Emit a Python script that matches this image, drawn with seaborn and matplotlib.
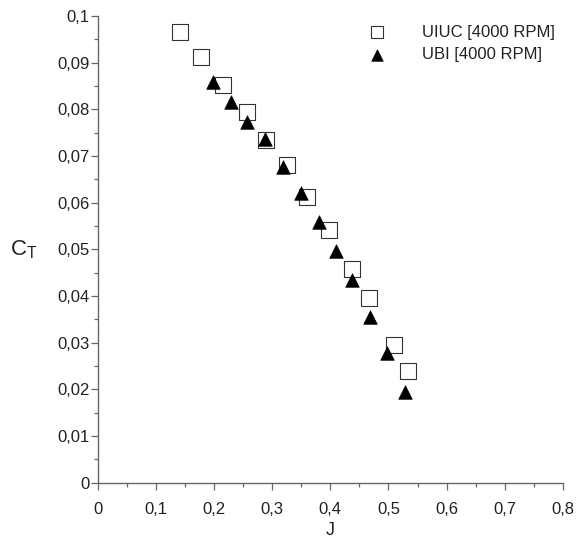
import matplotlib
matplotlib.use("Agg")
import matplotlib.pyplot as plt
import seaborn as sns
import pandas as pd
from matplotlib.ticker import MultipleLocator, FixedLocator, FixedFormatter

sns.set_style("ticks")
plt.rcParams["font.family"] = ["Liberation Sans", "DejaVu Sans"]
plt.rcParams["mathtext.fontset"] = "custom"
plt.rcParams["mathtext.rm"] = "Liberation Sans"
plt.rcParams["mathtext.it"] = "Liberation Sans"

# --- data ---
uiuc_J = [0.142, 0.178, 0.216, 0.256, 0.290, 0.325, 0.360, 0.398, 0.438, 0.467, 0.510, 0.533]
uiuc_CT = [0.0965, 0.0913, 0.0852, 0.0795, 0.0734, 0.0681, 0.0613, 0.0541, 0.0458, 0.0396, 0.0294, 0.0240]
ubi_J = [0.198, 0.229, 0.257, 0.288, 0.319, 0.349, 0.380, 0.410, 0.438, 0.469, 0.498, 0.529]
ubi_CT = [0.0858, 0.0816, 0.0773, 0.0736, 0.0677, 0.0620, 0.0559, 0.0496, 0.0434, 0.0356, 0.0277, 0.0194]
series_labels = ["UIUC [4000 RPM]", "UBI [4000 RPM]"]
x_ticks = [0, 0.1, 0.2, 0.3, 0.4, 0.5, 0.6, 0.7, 0.8]
x_ticklabels = ["0", "0,1", "0,2", "0,3", "0,4", "0,5", "0,6", "0,7", "0,8"]
y_ticks = [0, 0.01, 0.02, 0.03, 0.04, 0.05, 0.06, 0.07, 0.08, 0.09, 0.1]
y_ticklabels = ["0", "0,01", "0,02", "0,03", "0,04", "0,05", "0,06", "0,07", "0,08", "0,09", "0,1"]

df_uiuc = pd.DataFrame({"J": uiuc_J, "CT": uiuc_CT})
df_ubi = pd.DataFrame({"J": ubi_J, "CT": ubi_CT})

fig = plt.figure(figsize=(5.77, 5.39), dpi=100)
ax = fig.add_axes([0.1693, 0.1045, 0.8064, 0.8658])

sns.scatterplot(data=df_uiuc, x="J", y="CT", ax=ax, marker="s", s=120,
                facecolor="white", edgecolor="#333333", linewidth=0.8,
                label=series_labels[0], zorder=2)
sns.scatterplot(data=df_ubi, x="J", y="CT", ax=ax, marker="^", s=95,
                color="black", edgecolor="black", linewidth=0.5,
                label=series_labels[1], zorder=3)

ax.set_xlim(0, 0.8)
ax.set_ylim(0, 0.1)
ax.xaxis.set_major_locator(FixedLocator(x_ticks))
ax.xaxis.set_major_formatter(FixedFormatter(x_ticklabels))
ax.yaxis.set_major_locator(FixedLocator(y_ticks))
ax.yaxis.set_major_formatter(FixedFormatter(y_ticklabels))
ax.xaxis.set_minor_locator(MultipleLocator(0.05))
ax.yaxis.set_minor_locator(MultipleLocator(0.005))

spine_c = "#666666"
for side in ["top", "right"]:
    ax.spines[side].set_visible(False)
for side in ["left", "bottom"]:
    ax.spines[side].set_color(spine_c)
    ax.spines[side].set_linewidth(1.0)

ax.tick_params(axis="both", which="major", length=5, width=0.9, color=spine_c,
               labelsize=12, labelcolor="#222222", direction="out")
ax.tick_params(axis="both", which="minor", length=3, width=0.9, color=spine_c, direction="out")
ax.tick_params(axis="y", which="major", pad=1)
ax.tick_params(axis="x", which="major", pad=9)

ax.set_xlabel("J", fontsize=13, color="#222222", va="top")
ax.xaxis.set_label_coords(0.5, -0.0836)
ax.set_ylabel(r"$\mathregular{C_T}$", fontsize=16, color="#222222", rotation=0,
              ha="center", va="center")
ax.yaxis.set_label_coords(-0.158, 0.50)

leg = ax.legend(loc="upper left", bbox_to_anchor=(0.582, 0.981), frameon=False,
                fontsize=12, handlelength=1.0, handletextpad=2.2,
                borderpad=0, borderaxespad=0, labelspacing=0.45, markerscale=0.85)
for t in leg.get_texts():
    t.set_color("#222222")

fig.savefig("out.png", dpi=100, facecolor="white")
